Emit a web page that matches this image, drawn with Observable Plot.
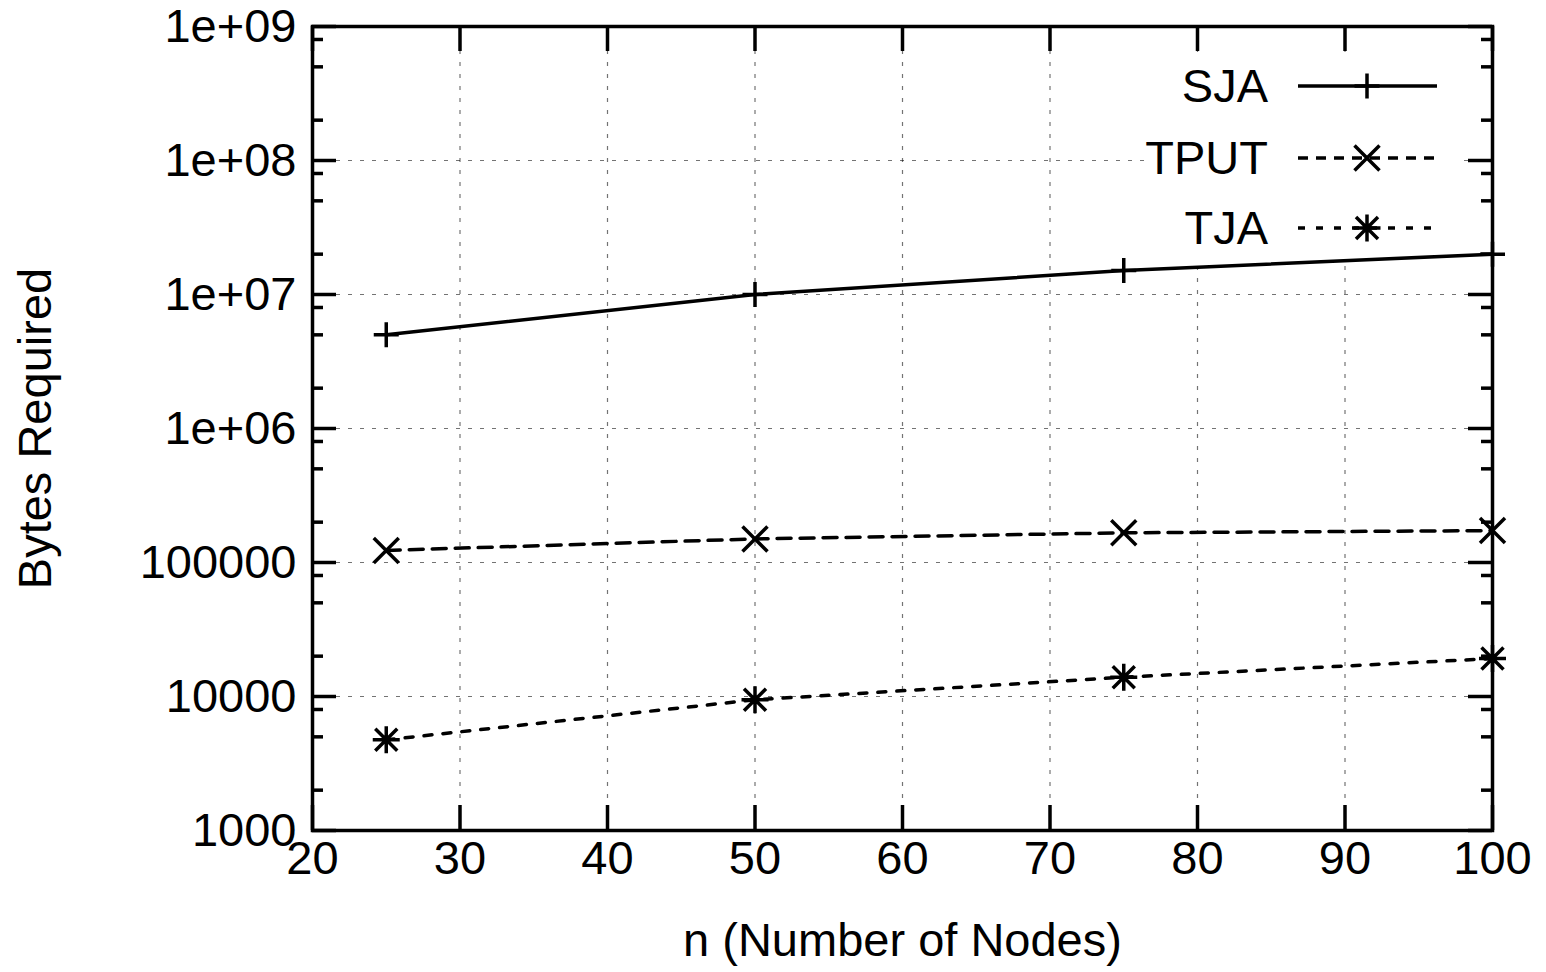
<!DOCTYPE html>
<html><head><meta charset="utf-8">
<script src="https://cdn.jsdelivr.net/npm/d3@7"></script>
<script src="https://cdn.jsdelivr.net/npm/@observablehq/plot@0.6"></script>
<style>html,body{margin:0;padding:0;background:#fff}</style>
</head><body><div id="chart"></div>
<script>
// ---- data ----
const nodes = [25, 50, 75, 100];
const sja = [5.0e6, 1.0e7, 1.51e7, 2.0e7];
const tput = [123000, 150000, 166500, 173000];
const tja = [4750, 9450, 13930, 19200];
const seriesNames = ["SJA", "TPUT", "TJA"];
const xTicks = [20, 30, 40, 50, 60, 70, 80, 90, 100];
const yTicks = [1e3, 1e4, 1e5, 1e6, 1e7, 1e8, 1e9];
const yTickLabels = ["1000", "10000", "100000", "1e+06", "1e+07", "1e+08", "1e+09"];
const yMinorMultipliers = [2, 5, 8];
const xLabel = "n (Number of Nodes)";
const yLabel = "Bytes Required";

// ---- layout ----
const W = 1546, H = 972;
const ML = 312, MR = 54, MT = 26, MB = 142;
const FW = W - ML - MR, FH = H - MT - MB;
const FONT = "'Liberation Sans', Arial, Helvetica, sans-serif";
const FS = 47;
const SW = 3.5;

const yMinor = yTicks.slice(0, -1).flatMap(t => yMinorMultipliers.map(m => t * m));
const rows = d => nodes.map((n, i) => ({n, v: d[i]}));
const dataSJA = rows(sja), dataTPUT = rows(tput), dataTJA = rows(tja);

// custom symbols (gnuplot style)
const plusSym = {draw(c) { c.moveTo(-12.5, 0); c.lineTo(12.5, 0); c.moveTo(0, -12.5); c.lineTo(0, 12.5); }};
const timesSym = {draw(c) { const r = 12.5; c.moveTo(-r, -r); c.lineTo(r, r); c.moveTo(-r, r); c.lineTo(r, -r); }};
const starSym = {draw(c) { const a = 13.5, r = 11; c.moveTo(-a, 0); c.lineTo(a, 0); c.moveTo(0, -a); c.lineTo(0, a);
  c.moveTo(-r, -r); c.lineTo(r, r); c.moveTo(-r, r); c.lineTo(r, -r); }};

const styles = [
  {name: seriesNames[0], data: dataSJA, dash: null, legendDash: null, sym: plusSym},
  {name: seriesNames[1], data: dataTPUT, dash: "14,9", legendDash: "10,8", sym: timesSym},
  {name: seriesNames[2], data: dataTJA, dash: "8,11", legendDash: "7,11", sym: starSym}
];

function symPath(sym) { const p = d3.path(); sym.draw(p, 0); return p.toString(); }

// white legend box (behind data)
const legendBox = () => {
  const g = d3.create("svg:g");
  g.append("rect").attr("x", ML + FW - 342).attr("y", MT + 26).attr("width", 313).attr("height", 210).attr("fill", "white");
  return g.node();
};
// legend entries
const legend = () => {
  const g = d3.create("svg:g");
  const rowY = [MT + 60, MT + 132, MT + 202];
  const right = ML + FW;
  styles.forEach((s, i) => {
    const y = rowY[i];
    g.append("text").attr("x", right - 224).attr("y", y).attr("dy", "0.35em")
      .attr("text-anchor", "end").attr("font-family", FONT).attr("font-size", FS).attr("fill", "black").text(s.name);
    g.append("line").attr("x1", right - 194).attr("x2", right - 55).attr("y1", y).attr("y2", y)
      .attr("stroke", "black").attr("stroke-width", SW).attr("stroke-dasharray", s.legendDash);
    g.append("path").attr("transform", `translate(${right - 125},${y})`).attr("d", symPath(s.sym))
      .attr("stroke", "black").attr("stroke-width", SW).attr("fill", "none");
  });
  return g.node();
};

const gridStyle = {stroke: "#000", strokeOpacity: 0.55, strokeWidth: 1.2, strokeDasharray: "4,8"};

const chart = Plot.plot({
  width: W, height: H,
  marginLeft: ML, marginRight: MR, marginTop: MT, marginBottom: MB,
  style: {fontFamily: FONT, fontSize: FS + "px", background: "white", color: "black"},
  x: {domain: [20, 100], axis: null},
  y: {type: "log", domain: [1e3, 1e9], axis: null},
  marks: [
    Plot.gridX(xTicks, gridStyle),
    Plot.gridY(yTicks, gridStyle),
    legendBox,
    // major ticks, inward on all four sides
    Plot.ruleX(xTicks, {x: d => d, stroke: "black", strokeWidth: SW, insetTop: FH - 25}),
    Plot.ruleX(xTicks, {x: d => d, stroke: "black", strokeWidth: SW, insetBottom: FH - 25}),
    Plot.ruleY(yTicks, {y: d => d, stroke: "black", strokeWidth: SW, insetRight: FW - 24}),
    Plot.ruleY(yTicks, {y: d => d, stroke: "black", strokeWidth: SW, insetLeft: FW - 24}),
    Plot.ruleY(yMinor, {y: d => d, stroke: "black", strokeWidth: SW, insetRight: FW - 11}),
    Plot.ruleY(yMinor, {y: d => d, stroke: "black", strokeWidth: SW, insetLeft: FW - 11}),
    Plot.axisX(xTicks, {tickSize: 0, tickPadding: 10, fontSize: FS, tickFormat: d => String(d), label: null}),
    Plot.axisY(yTicks, {tickSize: 0, tickPadding: 16, fontSize: FS, tickFormat: d => yTickLabels[yTicks.indexOf(d)], label: null}),
    ...styles.map(s => Plot.line(s.data, {x: "n", y: "v", stroke: "black", strokeWidth: SW, strokeDasharray: s.dash})),
    ...styles.map(s => Plot.dot(s.data, {x: "n", y: "v", symbol: s.sym, r: 12, stroke: "black", strokeWidth: SW, fill: "none"})),
    Plot.frame({stroke: "black", strokeWidth: SW}),
    legend,
    Plot.text([yLabel], {text: d => d, frameAnchor: "left", dx: -277, rotate: -90, fontSize: FS, textAnchor: "middle", fill: "black"}),
    Plot.text([xLabel], {text: d => d, frameAnchor: "bottom", dy: 110, fontSize: FS, textAnchor: "middle", lineAnchor: "middle", fill: "black"})
  ]
});
document.getElementById("chart").append(chart);
</script>
</body></html>
